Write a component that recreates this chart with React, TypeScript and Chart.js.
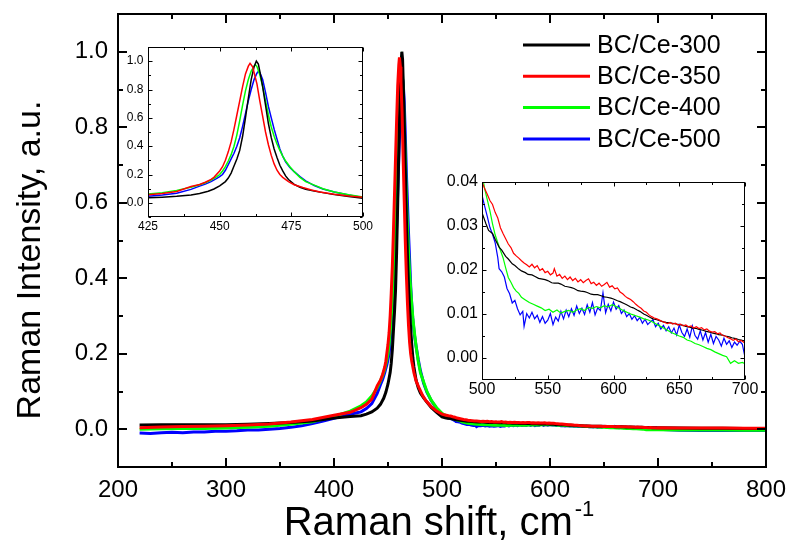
import { useEffect, useRef } from "react";
import { Chart, registerables } from "chart.js";

Chart.register(...registerables);

type Pt = [number, number];

// Raman spectra, [shift (cm-1), normalised intensity]
const bc300: Pt[] = [
  [220, 0.011], [240, 0.012], [260, 0.012], [280, 0.012], [300, 0.012], [320, 0.013], [340, 0.015], [360, 0.018],
  [380, 0.022], [400, 0.030], [415, 0.034], [425, 0.036], [430, 0.040], [435, 0.046], [440, 0.056], [443, 0.066],
  [446, 0.082], [448, 0.098], [450, 0.12], [452, 0.15], [453, 0.175], [454, 0.21], [455, 0.26], [456, 0.31],
  [457, 0.37], [458, 0.47], [459, 0.6], [460, 0.74], [461, 0.87], [462, 0.96], [462.8, 1.0], [463.5, 0.98],
  [464, 0.93], [465, 0.82], [466, 0.69], [467, 0.56], [468, 0.46], [469, 0.38], [470, 0.32], [471, 0.265],
  [472, 0.225], [473, 0.19], [474, 0.165], [476, 0.13], [478, 0.11], [480, 0.096], [483, 0.083], [486, 0.072],
  [490, 0.058], [495, 0.045], [500, 0.033], [503, 0.0305], [505, 0.029], [508, 0.0283], [510, 0.027], [513, 0.0252],
  [515, 0.0245], [518, 0.0231], [520, 0.0225], [523, 0.0214], [525, 0.021], [528, 0.0202], [530, 0.0198], [533, 0.0194],
  [535, 0.019], [538, 0.0189], [540, 0.0186], [543, 0.0181], [545, 0.018], [548, 0.0178], [550, 0.0176], [553, 0.0171],
  [555, 0.017], [558, 0.0170], [560, 0.0168], [563, 0.0163], [565, 0.0162], [568, 0.0160], [570, 0.0158], [573, 0.0153],
  [575, 0.0152], [578, 0.0151], [580, 0.0149], [583, 0.0145], [585, 0.0144], [588, 0.0144], [590, 0.0142], [593, 0.0139],
  [595, 0.0138], [598, 0.0136], [600, 0.0134], [603, 0.0130], [605, 0.0128], [608, 0.0124], [610, 0.0121], [613, 0.0116],
  [615, 0.0114], [618, 0.0109], [620, 0.0106], [623, 0.0100], [625, 0.0097], [628, 0.0092], [630, 0.0089], [633, 0.0087],
  [635, 0.0085], [638, 0.0082], [640, 0.0081], [643, 0.0080], [645, 0.0079], [648, 0.0077], [650, 0.0076], [653, 0.0074],
  [655, 0.0072], [658, 0.0070], [660, 0.0068], [663, 0.0067], [665, 0.0065], [668, 0.0063], [670, 0.0061], [673, 0.0059],
  [675, 0.0057], [678, 0.0055], [680, 0.0053], [683, 0.0052], [685, 0.005], [688, 0.0048], [690, 0.0046], [693, 0.0044],
  [695, 0.0042], [698, 0.0040], [700, 0.0039], [720, 0.0033], [740, 0.0028], [760, 0.0024], [780, 0.002], [800, 0.0018],
];

const bc350: Pt[] = [
  [220, 0.004], [240, 0.006], [260, 0.007], [280, 0.008], [300, 0.009], [320, 0.011], [340, 0.014], [360, 0.019],
  [380, 0.026], [400, 0.037], [415, 0.045], [425, 0.057], [430, 0.066], [435, 0.08], [440, 0.115], [443, 0.13],
  [445, 0.145], [447, 0.165], [448, 0.18], [450, 0.225], [451, 0.255], [452, 0.3], [453, 0.36], [454, 0.43],
  [455, 0.52], [456, 0.62], [457, 0.72], [458, 0.82], [459, 0.91], [460, 0.965], [460.6, 0.985], [461.5, 0.96],
  [462, 0.92], [463, 0.84], [464, 0.72], [465, 0.61], [466, 0.5], [467, 0.41], [468, 0.335], [469, 0.275],
  [470, 0.23], [471, 0.2], [472, 0.18], [474, 0.15], [476, 0.128], [479, 0.108], [482, 0.09], [485, 0.076],
  [490, 0.06], [495, 0.048], [500, 0.04], [502, 0.0385], [504, 0.0372], [506, 0.0358], [508, 0.0349], [510, 0.0331],
  [512, 0.0318], [514, 0.0296], [516, 0.0283], [518, 0.0271], [520, 0.0259], [522, 0.0251], [524, 0.0238], [526, 0.0232],
  [528, 0.0227], [530, 0.0221], [532, 0.0216], [534, 0.0212], [536, 0.0207], [538, 0.0213], [540, 0.0205], [542, 0.021],
  [544, 0.0199], [546, 0.0203], [548, 0.0194], [550, 0.0197], [552, 0.0189], [554, 0.0193], [555, 0.0203], [557, 0.0186],
  [559, 0.019], [561, 0.0181], [563, 0.0186], [565, 0.0178], [567, 0.0184], [569, 0.0176], [571, 0.0181], [573, 0.0173],
  [575, 0.0178], [577, 0.0171], [579, 0.0176], [581, 0.018], [583, 0.0169], [585, 0.0172], [587, 0.0165], [589, 0.017],
  [591, 0.0163], [593, 0.0167], [595, 0.0172], [597, 0.0161], [599, 0.0164], [601, 0.0157], [603, 0.0159], [605, 0.015],
  [607, 0.0146], [609, 0.014], [611, 0.0136], [613, 0.0133], [615, 0.0128], [617, 0.0122], [619, 0.0117], [621, 0.0113],
  [623, 0.0107], [625, 0.0104], [627, 0.0098], [629, 0.0094], [631, 0.0091], [633, 0.0089], [635, 0.0086], [637, 0.0083],
  [639, 0.0081], [641, 0.0078], [643, 0.0081], [645, 0.0077], [647, 0.0079], [649, 0.0075], [651, 0.0077], [653, 0.0073],
  [655, 0.0075], [657, 0.0071], [659, 0.0073], [661, 0.0068], [663, 0.0071], [665, 0.0067], [667, 0.0069], [669, 0.0064],
  [671, 0.0066], [673, 0.0061], [675, 0.0059], [677, 0.006], [679, 0.0055], [681, 0.0057], [683, 0.0051], [685, 0.005],
  [687, 0.0046], [689, 0.0044], [691, 0.004], [693, 0.0043], [695, 0.0037], [697, 0.004], [699, 0.0036], [700, 0.0039],
  [720, 0.0035], [740, 0.0032], [760, 0.003], [780, 0.0028], [800, 0.0027],
];

const bc400: Pt[] = [
  [220, 0.0], [240, 0.001], [260, 0.002], [280, 0.002], [300, 0.003], [320, 0.005], [340, 0.008], [360, 0.013],
  [380, 0.02], [400, 0.034], [415, 0.048], [425, 0.062], [430, 0.072], [435, 0.088], [440, 0.11], [443, 0.128],
  [445, 0.142], [447, 0.16], [449, 0.185], [450, 0.2], [451, 0.225], [452, 0.255], [453, 0.295], [454, 0.34],
  [455, 0.4], [456, 0.48], [457, 0.58], [458, 0.69], [459, 0.79], [460, 0.87], [461, 0.93], [462, 0.965],
  [462.5, 0.974], [463, 0.962], [464, 0.905], [465, 0.82], [466, 0.72], [467, 0.62], [468, 0.535], [469, 0.47],
  [470, 0.415], [471, 0.37], [472, 0.33], [473, 0.295], [474.5, 0.255], [476, 0.22], [478, 0.18], [480, 0.15],
  [483, 0.125], [486, 0.1], [490, 0.077], [495, 0.057], [500, 0.042], [502, 0.0385], [504, 0.036], [506, 0.0335],
  [508, 0.0305], [510, 0.028], [512, 0.0262], [514, 0.0245], [516, 0.0228], [518, 0.0205], [520, 0.0183], [522, 0.0172],
  [524, 0.016], [526, 0.0152], [528, 0.0147], [530, 0.0138], [533, 0.0132], [536, 0.0126], [539, 0.0122], [542, 0.0118],
  [545, 0.0114], [548, 0.0108], [551, 0.0111], [554, 0.0104], [557, 0.0109], [560, 0.0102], [563, 0.0106], [566, 0.0108],
  [569, 0.0104], [572, 0.0109], [575, 0.0112], [578, 0.0108], [581, 0.0115], [584, 0.0113], [587, 0.0117], [590, 0.0114],
  [593, 0.0119], [596, 0.0116], [599, 0.0121], [602, 0.0117], [605, 0.0112], [608, 0.0107], [611, 0.0103], [614, 0.0099],
  [617, 0.0096], [620, 0.0093], [623, 0.0089], [626, 0.0087], [629, 0.0083], [632, 0.0078], [635, 0.0073], [638, 0.0068],
  [641, 0.0063], [644, 0.0058], [647, 0.0054], [650, 0.005], [653, 0.0047], [656, 0.0041], [659, 0.0038], [662, 0.0033],
  [665, 0.003], [668, 0.0026], [671, 0.0022], [674, 0.0019], [677, 0.0014], [680, 0.001], [683, 0.0006], [686, 0.0003],
  [689, -0.0012], [692, -0.0006], [695, -0.0012], [698, -0.001], [700, -0.0013], [720, -0.0018], [740, -0.002],
  [760, -0.0022], [780, -0.0024], [800, -0.0025],
];

const bc500: Pt[] = [
  [220, -0.01], [230, -0.011], [240, -0.009], [250, -0.008], [260, -0.009], [270, -0.007], [280, -0.007], [290, -0.005],
  [300, -0.005], [310, -0.004], [320, -0.002], [330, -0.002], [340, 0.0], [350, 0.002], [360, 0.005], [370, 0.009],
  [380, 0.015], [390, 0.022], [400, 0.029], [410, 0.036], [420, 0.043], [425, 0.046], [430, 0.055], [435, 0.068],
  [440, 0.095], [443, 0.118], [445, 0.132], [447, 0.15], [449, 0.172], [450, 0.185], [451, 0.2], [452, 0.23],
  [453, 0.27], [454, 0.31], [455, 0.35], [456, 0.4], [457, 0.46], [458, 0.54], [459, 0.63], [460, 0.72],
  [461, 0.8], [462, 0.87], [463, 0.915], [463.5, 0.928], [464, 0.92], [465, 0.87], [466, 0.78], [467, 0.68],
  [468, 0.6], [469, 0.52], [470, 0.45], [471, 0.38], [472, 0.33], [473, 0.29], [474.5, 0.25], [476, 0.22],
  [478, 0.185], [480, 0.155], [483, 0.122], [486, 0.098], [490, 0.076], [495, 0.055], [500, 0.037], [502, 0.0345],
  [504, 0.0322], [506, 0.0297], [508, 0.0281], [510, 0.0262], [512, 0.0228], [513, 0.0203], [515, 0.0196], [517, 0.0184],
  [519, 0.0158], [521, 0.0146], [523, 0.0125], [525, 0.0131], [527, 0.0112], [529, 0.0098], [531, 0.0106], [532, 0.0072],
  [534, 0.0101], [536, 0.0091], [538, 0.0104], [540, 0.0089], [542, 0.0097], [544, 0.0081], [546, 0.0094], [548, 0.0079],
  [550, 0.0086], [552, 0.0101], [554, 0.0076], [556, 0.0093], [558, 0.0084], [560, 0.0106], [562, 0.0089], [564, 0.0109],
  [566, 0.0094], [568, 0.0112], [570, 0.0097], [572, 0.0118], [574, 0.0101], [576, 0.0113], [578, 0.0099], [580, 0.0121],
  [582, 0.0104], [584, 0.0126], [586, 0.0098], [588, 0.0114], [590, 0.0108], [592, 0.0148], [594, 0.0103], [596, 0.0122],
  [598, 0.0107], [600, 0.0127], [602, 0.0111], [604, 0.0119], [606, 0.0101], [608, 0.0109], [610, 0.0094], [612, 0.0101],
  [614, 0.0088], [616, 0.0096], [618, 0.0085], [620, 0.0092], [622, 0.0079], [624, 0.0088], [626, 0.0076], [628, 0.0082],
  [630, 0.0087], [632, 0.0071], [634, 0.0079], [636, 0.0066], [638, 0.0074], [640, 0.0062], [642, 0.0071], [644, 0.0057],
  [646, 0.0068], [648, 0.0052], [650, 0.0075], [652, 0.0058], [654, 0.0049], [656, 0.0066], [658, 0.0047], [660, 0.0073],
  [662, 0.0051], [664, 0.0043], [666, 0.0062], [668, 0.0041], [670, 0.0058], [672, 0.0036], [674, 0.0054], [676, 0.0033],
  [678, 0.0049], [680, 0.0041], [682, 0.0027], [684, 0.0045], [686, 0.0031], [688, 0.0039], [690, 0.0024], [692, 0.0036],
  [694, 0.0029], [696, 0.0038], [698, 0.0031], [700, 0.0002], [720, -0.0025], [740, -0.003], [760, -0.0033],
  [780, -0.0032], [800, -0.0035],
];

const seriesData = [bc300, bc350, bc400, bc500];
const seriesLabels = ["BC/Ce-300", "BC/Ce-350", "BC/Ce-400", "BC/Ce-500"];
const seriesColors = ["#000000", "#ff0000", "#00ff00", "#0000ff"];
// lower value = drawn later (on top)
const seriesDrawOrder = [1, 0, 2, 3];

// axis ticks
const mainXTicks = [200, 300, 400, 500, 600, 700, 800];
const mainXMinor = [250, 350, 450, 550, 650, 750];
const mainYTicks = [0, 0.2, 0.4, 0.6, 0.8, 1.0];
const mainYMinor = [0.1, 0.3, 0.5, 0.7, 0.9];
const peakXTicks = [425, 450, 475, 500];
const peakXMinor = [437.5, 462.5, 487.5];
const peakYTicks = [0, 0.2, 0.4, 0.6, 0.8, 1.0];
const peakYMinor = [-0.1, 0.1, 0.3, 0.5, 0.7, 0.9, 1.1];
const tailXTicks = [500, 550, 600, 650, 700];
const tailXMinor = [525, 575, 625, 675];
const tailYTicks = [0, 0.01, 0.02, 0.03, 0.04];
const tailYMinor = [0.005, 0.015, 0.025, 0.035];

const FONT = "'Liberation Sans', Arial, Helvetica, sans-serif";

type PanelSpec = {
  left: number;
  top: number;
  width: number;
  height: number;
  pad: { left: number; top: number; right: number; bottom: number };
  xMin: number;
  xMax: number;
  yMin: number;
  yMax: number;
  xTicks: number[];
  xMinor: number[];
  yTicks: number[];
  yMinor: number[];
  yDigits: number;
  lineWidth: number;
  frameWidth: number;
  majorLen: number;
  minorLen: number;
  labelSize: number;
  xLabelGap: number;
  yLabelGap: number;
  titles: boolean;
  legend: boolean;
};

const mainPanel: PanelSpec = {
  left: 0, top: 0, width: 788, height: 542,
  pad: { left: 118, top: 14, right: 22, bottom: 75 },
  xMin: 200, xMax: 800, yMin: -0.1, yMax: 1.1,
  xTicks: mainXTicks, xMinor: mainXMinor, yTicks: mainYTicks, yMinor: mainYMinor,
  yDigits: 1, lineWidth: 3, frameWidth: 2, majorLen: 9, minorLen: 5,
  labelSize: 24, xLabelGap: 23, yLabelGap: 10, titles: true, legend: true,
};

const peakPanel: PanelSpec = {
  left: 100, top: 37, width: 280, height: 200,
  pad: { left: 48, top: 10, right: 17, bottom: 20 },
  xMin: 425, xMax: 500, yMin: -0.1, yMax: 1.1,
  xTicks: peakXTicks, xMinor: peakXMinor, yTicks: peakYTicks, yMinor: peakYMinor,
  yDigits: 1, lineWidth: 1.5, frameWidth: 1, majorLen: 4, minorLen: 2.5,
  labelSize: 12, xLabelGap: 10, yLabelGap: 4.5, titles: false, legend: false,
};

const tailPanel: PanelSpec = {
  left: 430, top: 170, width: 340, height: 240,
  pad: { left: 52, top: 12, right: 25, bottom: 30 },
  xMin: 500, xMax: 700, yMin: -0.005, yMax: 0.04,
  xTicks: tailXTicks, xMinor: tailXMinor, yTicks: tailYTicks, yMinor: tailYMinor,
  yDigits: 2, lineWidth: 1.2, frameWidth: 1, majorLen: 4, minorLen: 2.5,
  labelSize: 16, xLabelGap: 10, yLabelGap: 4, titles: false, legend: false,
};

// frame, inward ticks on all sides, tick labels, axis titles and legend
const framePlugin = {
  id: "ramanFrame",
  afterDraw(chart: any, _args: any, opts: any) {
    const spec: PanelSpec = opts.spec;
    const { ctx, chartArea: a } = chart;
    const xs = chart.scales.x;
    const ys = chart.scales.y;
    const off = spec.frameWidth % 2 === 1 ? 0.5 : 0;
    const L = a.left + off, R = a.right - off, T = a.top + off, B = a.bottom - off;
    ctx.save();
    ctx.strokeStyle = "#000";
    ctx.lineWidth = spec.frameWidth;
    ctx.strokeRect(L, T, R - L, B - T);

    ctx.beginPath();
    const xTick = (v: number, len: number) => {
      const px = Math.round(xs.getPixelForValue(v)) + off;
      ctx.moveTo(px, B); ctx.lineTo(px, B - len);
      ctx.moveTo(px, T); ctx.lineTo(px, T + len);
    };
    const yTick = (v: number, len: number) => {
      const py = Math.round(ys.getPixelForValue(v)) + off;
      ctx.moveTo(L, py); ctx.lineTo(L + len, py);
      ctx.moveTo(R, py); ctx.lineTo(R - len, py);
    };
    spec.xTicks.forEach((v) => xTick(v, spec.majorLen));
    spec.xMinor.forEach((v) => xTick(v, spec.minorLen));
    spec.yTicks.forEach((v) => yTick(v, spec.majorLen));
    spec.yMinor.forEach((v) => yTick(v, spec.minorLen));
    ctx.stroke();

    ctx.fillStyle = "#000";
    ctx.font = `${spec.labelSize}px ${FONT}`;
    ctx.textBaseline = "middle";
    ctx.textAlign = "center";
    spec.xTicks.forEach((v) => {
      ctx.fillText(String(v), xs.getPixelForValue(v), a.bottom + spec.xLabelGap);
    });
    ctx.textAlign = "right";
    spec.yTicks.forEach((v) => {
      ctx.fillText(v.toFixed(spec.yDigits), a.left - spec.yLabelGap, ys.getPixelForValue(v));
    });

    if (spec.titles) {
      ctx.textBaseline = "alphabetic";
      const main = "Raman shift, cm";
      const sup = "-1";
      ctx.font = `40px ${FONT}`;
      const w1 = ctx.measureText(main).width;
      ctx.font = `22px ${FONT}`;
      const w2 = ctx.measureText(sup).width;
      const x0 = 439 - (w1 + w2 + 2) / 2;
      ctx.textAlign = "left";
      ctx.font = `40px ${FONT}`;
      ctx.fillText(main, x0, 535);
      ctx.font = `22px ${FONT}`;
      ctx.fillText(sup, x0 + w1 + 2, 516);

      ctx.save();
      ctx.translate(40, 260);
      ctx.rotate(-Math.PI / 2);
      ctx.textAlign = "center";
      ctx.font = `34px ${FONT}`;
      ctx.fillText("Raman Intensity, a.u.", 0, 0);
      ctx.restore();
    }

    if (spec.legend) {
      ctx.font = `25px ${FONT}`;
      ctx.textAlign = "left";
      ctx.textBaseline = "middle";
      chart.data.datasets.forEach((ds: any, i: number) => {
        const y = 45 + i * 31.3;
        ctx.strokeStyle = ds.borderColor;
        ctx.lineWidth = 3;
        ctx.beginPath();
        ctx.moveTo(523, y);
        ctx.lineTo(590, y);
        ctx.stroke();
        ctx.fillStyle = "#000";
        ctx.fillText(ds.label, 597, y + 1);
      });
    }
    ctx.restore();
  },
};

function SpectrumPanel({ spec }: { spec: PanelSpec }) {
  const ref = useRef<HTMLCanvasElement>(null);
  useEffect(() => {
    const canvas = ref.current;
    if (!canvas) return;
    const chart = new Chart(canvas, {
      type: "line",
      data: {
        datasets: seriesData.map((pts, i) => ({
          label: seriesLabels[i],
          data: pts.map(([x, y]) => ({ x, y })),
          borderColor: seriesColors[i],
          backgroundColor: seriesColors[i],
          borderWidth: spec.lineWidth,
          pointRadius: 0,
          tension: 0,
          fill: false,
          order: seriesDrawOrder[i],
        })),
      },
      options: {
        animation: false,
        responsive: false,
        devicePixelRatio: 1,
        events: [],
        layout: { padding: spec.pad },
        scales: {
          x: { type: "linear", min: spec.xMin, max: spec.xMax, display: false },
          y: { type: "linear", min: spec.yMin, max: spec.yMax, display: false },
        },
        plugins: {
          legend: { display: false },
          tooltip: { enabled: false },
          ramanFrame: { spec },
        } as any,
      },
      plugins: [framePlugin],
    });
    return () => chart.destroy();
  }, [spec]);
  return (
    <canvas
      ref={ref}
      width={spec.width}
      height={spec.height}
      style={{ position: "absolute", left: spec.left, top: spec.top, width: spec.width, height: spec.height }}
    />
  );
}

export default function App() {
  return (
    <div style={{ position: "fixed", left: 0, top: 0, width: 788, height: 542, background: "#fff" }}>
      <SpectrumPanel spec={mainPanel} />
      <SpectrumPanel spec={peakPanel} />
      <SpectrumPanel spec={tailPanel} />
    </div>
  );
}
